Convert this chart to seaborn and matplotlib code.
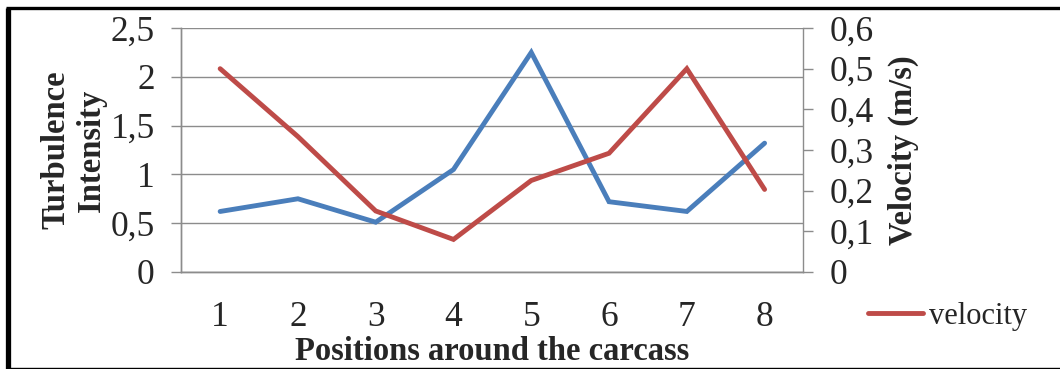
import matplotlib
matplotlib.use("Agg")
import matplotlib.pyplot as plt
from matplotlib.lines import Line2D
import seaborn as sns
import pandas as pd
import numpy as np

# Measurement positions around the carcass
positions = [1, 2, 3, 4, 5, 6, 7, 8]
# Turbulence intensity (left axis)
turbulence = [0.62, 0.75, 0.51, 1.05, 2.25, 0.72, 0.62, 1.32]
# Air velocity in m/s (right axis)
velocity = [0.50, 0.333, 0.15, 0.08, 0.225, 0.292, 0.50, 0.203]

left_ticks = [0, 0.5, 1, 1.5, 2, 2.5]
left_labels = ["0", "0,5", "1", "1,5", "2", "2,5"]
right_ticks = [0, 0.1, 0.2, 0.3, 0.4, 0.5, 0.6]
right_labels = ["0", "0,1", "0,2", "0,3", "0,4", "0,5", "0,6"]

df = pd.DataFrame({"position": positions,
                   "turbulence": turbulence,
                   "velocity": velocity})

sns.set_style("white")
plt.rcParams["font.family"] = ["Liberation Serif", "DejaVu Serif"]

BLUE = "#4a7ebb"
RED = "#be4b48"
GRID = "#8c8c8c"
TICK_FS = 25.5
LABEL_FS = 23.5
LEGEND_FS = 22
LW = 3.5

fig = plt.figure(figsize=(10.6, 3.69), dpi=100)
ax = fig.add_axes([0.171, 0.263, 0.587, 0.661])
ax2 = ax.twinx()

sns.lineplot(data=df, x="position", y="turbulence", ax=ax, color=BLUE,
             linewidth=LW, legend=False, solid_joinstyle="miter")
sns.lineplot(data=df, x="position", y="velocity", ax=ax2, color=RED,
             linewidth=LW, label="velocity", legend=False,
             solid_joinstyle="miter")

ax.set_xlim(0.5, 8.5)
ax.set_ylim(0, 2.5)
ax2.set_ylim(0, 0.6)

# category boundaries carry the tick marks, labels sit at the centres
ax.set_xticks(np.arange(0.5, 9.0, 1.0))
ax.set_xticklabels([])
ax.set_xticks(positions, minor=True)
ax.set_xticklabels([str(p) for p in positions], minor=True, fontsize=TICK_FS)
ax.tick_params(axis="x", which="major", length=7, width=1, color=GRID,
               direction="out")
ax.tick_params(axis="x", which="minor", length=0, pad=21)

ax.set_yticks(left_ticks)
ax.set_yticklabels(left_labels, fontsize=TICK_FS)
ax.tick_params(axis="y", length=7, width=1, color=GRID, direction="out", pad=12)
ax.yaxis.grid(True, color=GRID, linewidth=1)
ax.set_axisbelow(True)

ax2.set_yticks(right_ticks)
ax2.set_yticklabels(right_labels, fontsize=TICK_FS)
ax2.tick_params(axis="y", length=7, width=1, color=GRID, direction="out", pad=12)
ax2.grid(False)

for a in (ax, ax2):
    a.spines["top"].set_visible(False)
    for s in ("left", "right", "bottom"):
        a.spines[s].set_color(GRID)
        a.spines[s].set_linewidth(1)
ax.spines["right"].set_visible(False)

ax.set_xlabel("Positions around the carcass", fontsize=LABEL_FS,
              fontweight="bold", labelpad=1.5)
ax.set_ylabel("Turbulence\nIntensity", fontsize=LABEL_FS, fontweight="bold",
              labelpad=3, linespacing=1.15)
ax2.set_ylabel("Velocity (m/s)", fontsize=LABEL_FS, fontweight="bold",
               labelpad=10)

handles, labels = ax2.get_legend_handles_labels()
fig.legend(handles, labels, loc="center left", bbox_to_anchor=(0.819, 0.142),
           frameon=False, fontsize=LEGEND_FS, handlelength=1.8,
           handletextpad=0.2, borderaxespad=0, borderpad=0)

# outer frame: heavy left and top rules, thin bottom rule
fig.add_artist(Line2D([0.008, 0.008], [0.0, 0.978], transform=fig.transFigure,
                      color="black", linewidth=3.8, solid_capstyle="butt"))
fig.add_artist(Line2D([0.006, 1.0], [0.977, 0.977], transform=fig.transFigure,
                      color="black", linewidth=2.4, solid_capstyle="butt"))
fig.add_artist(Line2D([0.006, 1.0], [0.004, 0.004], transform=fig.transFigure,
                      color="black", linewidth=1.0, solid_capstyle="butt"))

fig.savefig("out.png", dpi=100)
